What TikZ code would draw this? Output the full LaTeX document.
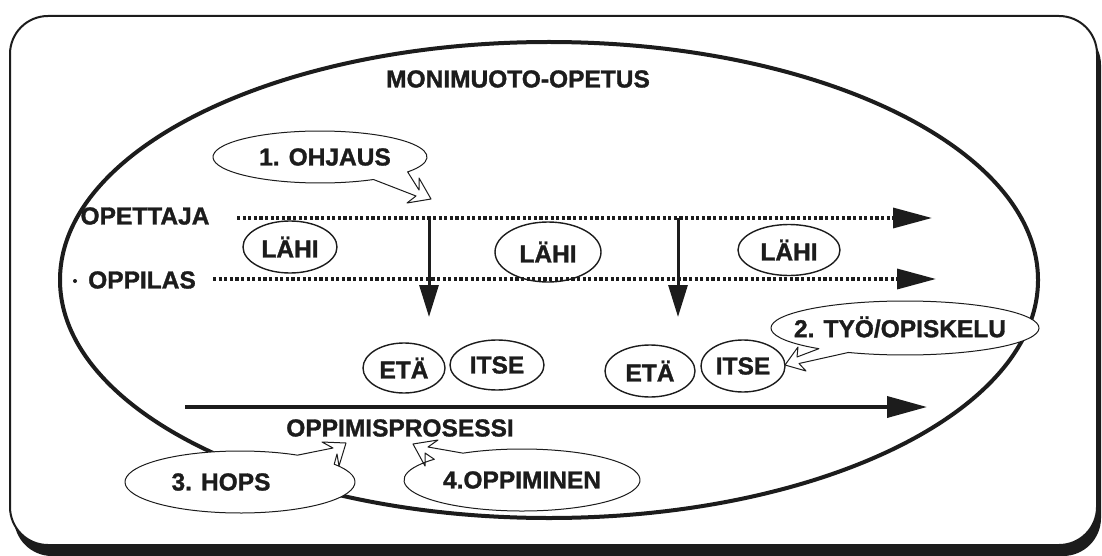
\documentclass[tikz,border=0pt]{standalone}
\usepackage{fontspec}
\setmainfont{Liberation Sans}[BoldFeatures={FakeBold=1.3}]
\usetikzlibrary{shapes.geometric,arrows.meta,calc}
\definecolor{ink}{RGB}{28,28,28}
\begin{document}
\begin{tikzpicture}[x=1pt,y=-1pt,
  lab/.style={font=\fontsize{24.5}{28}\selectfont\bfseries, inner sep=0pt, text=ink},
  oval/.style={ellipse, draw=ink, line width=1.4pt, inner sep=0pt},
  bubble/.style={draw=ink, fill=white, line width=1pt, line join=round},
  dotline/.style={draw=ink, line width=3.4pt, dash pattern=on 3.2pt off 2.4pt, -{Triangle[length=39pt,width=20pt]}},
  downarrow/.style={draw=ink, line width=3pt, -{Triangle[length=32pt,width=19pt]}},
  mainarrow/.style={draw=ink, line width=3.6pt, -{Triangle[length=40pt,width=21pt]}},
]
\useasboundingbox (0,0) rectangle (1102,556);
% frame with shadow
\fill[ink, rounded corners=38pt] (14,27) rectangle (1101,556);
\draw[ink, fill=white, line width=2pt, rounded corners=38pt] (10,16) rectangle (1097,545);
% big ellipse
\draw[ink, line width=4pt] (549,280) ellipse[x radius=489, y radius=238];
% title
\node[lab] (title) at (518,79) {MONIMUOTO-OPETUS};
% row labels
\node[lab] (opettaja) at (145,216) {OPETTAJA};
\node[lab] (oppilas) at (142,280) {OPPILAS};
\fill[ink] (75,281) circle[radius=2];
% dotted lines
\coordinate (t1) at (237,218); \coordinate (t2) at (932,218);
\coordinate (s1) at (213,279); \coordinate (s2) at (936,279);
\draw[dotline] (t1) -- (t2);
\draw[dotline] (s1) -- (s2);
% vertical arrows
\coordinate (v1a) at (429,218); \coordinate (v1b) at (429,317);
\coordinate (v2a) at (678,218); \coordinate (v2b) at (678,317);
\draw[downarrow] (v1a) -- (v1b);
\draw[downarrow] (v2a) -- (v2b);
% LAHI ovals
\node[oval, lab, minimum width=94pt, minimum height=52pt] (lahi1) at (290,247) {LÄHI};
\node[oval, lab, minimum width=106pt, minimum height=60pt] (lahi2) at (548,252) {LÄHI};
\node[oval, lab, minimum width=102pt, minimum height=51pt] (lahi3) at (789,250) {LÄHI};
% ETA / ITSE
\node[oval, lab, minimum width=82pt, minimum height=50pt] (eta1) at (404,368) {ETÄ};
\node[oval, lab, minimum width=94pt, minimum height=50pt] (itse1) at (497,365) {ITSE};
\node[oval, lab, minimum width=90pt, minimum height=52pt] (eta2) at (650,371) {ETÄ};
\node[oval, lab, minimum width=84pt, minimum height=52pt] (itse2) at (743,366) {ITSE};
% main process arrow
\coordinate (p1) at (185,407); \coordinate (p2) at (927,407);
\draw[mainarrow] (p1) -- (p2);
\node[lab] (proc) at (400,428) {OPPIMISPROSESSI};
% bubbles
\draw[bubble] (320,157) ++(60:107 and 26) arc[start angle=60, end angle=395, x radius=107, y radius=26]
  -- (419,190) -- (419,178) -- (431,199) -- (407,203) -- (416,196) -- cycle;
\node[lab] (b1) at (325,157) {1. OHJAUS};
\draw[bubble] (905,328) ++(130:134 and 27) arc[start angle=130, end angle=475, x radius=134, y radius=27]
  -- (799,363.5) -- (806,371) -- (785,365) -- (798,347) -- (797,357) -- cycle;
\node[lab] (b2) at (900,327) {2. TYÖ/OPISKELU};
\draw[bubble] (240,482) ++(-35:115 and 31) arc[start angle=-35, end angle=300, x radius=115, y radius=31]
  -- (333,448) -- (322,442) -- (346,443) -- (339,466) -- (337,454) -- cycle;
\node[lab] (b3) at (221,482) {3. HOPS};
\draw[bubble] (522,480) ++(240:118 and 31) arc[start angle=240, end angle=582, x radius=118, y radius=31]
  -- (425,453) -- (425,466) -- (413,444) -- (438,440) -- (428,447) -- cycle;
\node[lab] (b4) at (522,480) {4.OPPIMINEN};
\end{tikzpicture}
\end{document}
